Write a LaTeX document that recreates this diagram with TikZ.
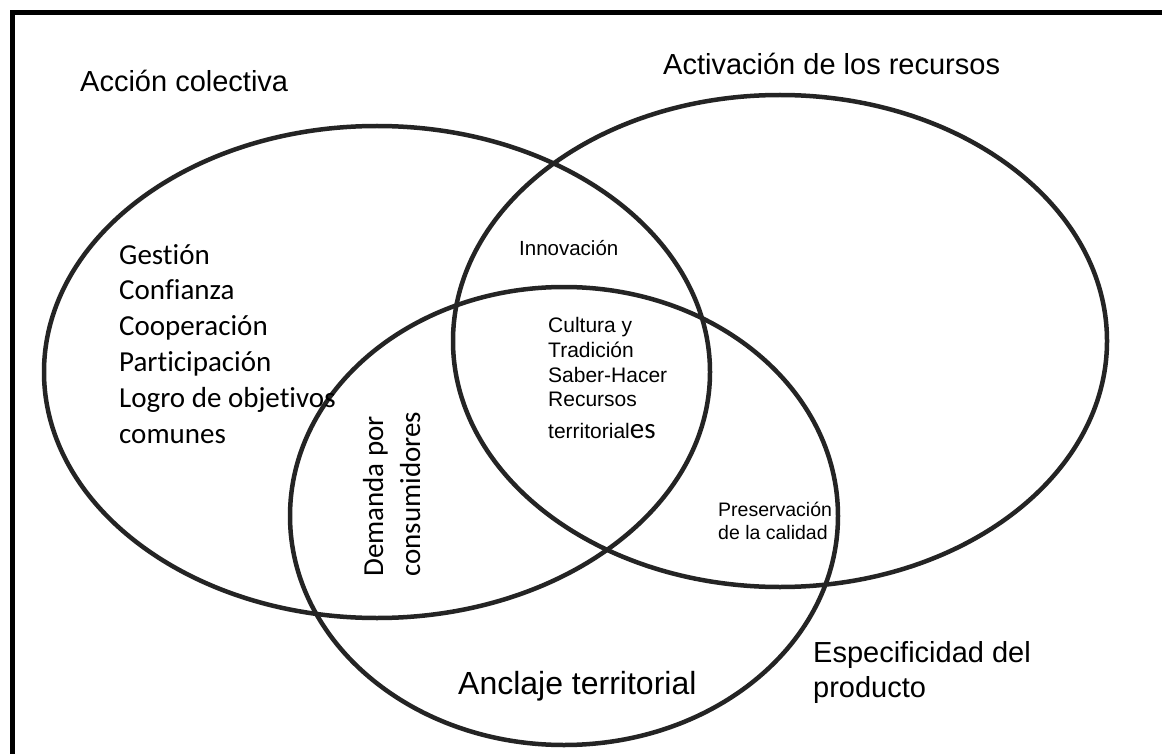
\documentclass[tikz,border=0pt]{standalone}
\usepackage{fontspec}
\setmainfont{Liberation Sans}
\newfontfamily\calibri[Ligatures={NoCommon}]{Carlito}
\usetikzlibrary{shapes.geometric}
\begin{document}
\begin{tikzpicture}[x=1pt,y=-1pt,
  circ/.style={draw=black!86, line width=4.5pt, ellipse, inner sep=0pt},
  lab/.style={inner sep=0pt, anchor=base west, font=\fontsize{29}{35}\selectfont},
  cal/.style={inner sep=0pt, anchor=base west, font=\calibri\fontsize{29}{35}\selectfont},
  small/.style={inner sep=0pt, anchor=base west, font=\fontsize{21}{24.5}\selectfont},
  smaller/.style={inner sep=0pt, anchor=base west, font=\fontsize{19.5}{23}\selectfont}]
\useasboundingbox (0,0) rectangle (1162,754);
\fill[white] (0,0) rectangle (1162,754);
\draw[line width=5pt] (12,754) -- (12,12.5) -- (1162,12.5);
% ellipses
\node[circ, minimum width=666pt, minimum height=492pt] (left) at (377,372) {};
\node[circ, minimum width=654pt, minimum height=492pt] (right) at (780,341) {};
\node[circ, minimum width=548pt, minimum height=458pt] (bottom) at (564,516) {};
% titles
\node[lab] (ac) at (80,92) {Acción colectiva};
\node[lab] (ar) at (663,75) {Activación de los recursos};
\node[lab, font=\fontsize{32}{38}\selectfont] (at) at (458,694) {Anclaje territorial};
\node[lab] (ep1) at (813,662) {Especificidad del};
\node[lab] (ep2) at (813,697) {producto};
% left list
\foreach \t [count=\i] in {Gestión,Confianza,Cooperación,Participación,Logro de objetivos,comunes}
  \node[cal] (g\i) at (119,{264+35.8*(\i-1)}) {\t};
% intersections
\node[lab, font=\fontsize{20.5}{24}\selectfont] (inn) at (519,255) {Innovación};
\node[small] (c1) at (548,332) {Cultura y};
\node[small] (c2) at (548,357) {Tradición};
\node[small] (c3) at (548,382) {Saber-Hacer};
\node[small] (c4) at (548,406) {Recursos};
\node[small] (c5) at (548,438) {territorial{\calibri\fontsize{29}{35}\selectfont es}};
\node[smaller] (p1) at (718,516) {Preservación};
\node[smaller] (p2) at (718,539) {de la calidad};
\node[cal, rotate=90] (d1) at (383,577) {Demanda por};
\node[cal, rotate=90] (d2) at (420,577) {consumidores};
\end{tikzpicture}
\end{document}
